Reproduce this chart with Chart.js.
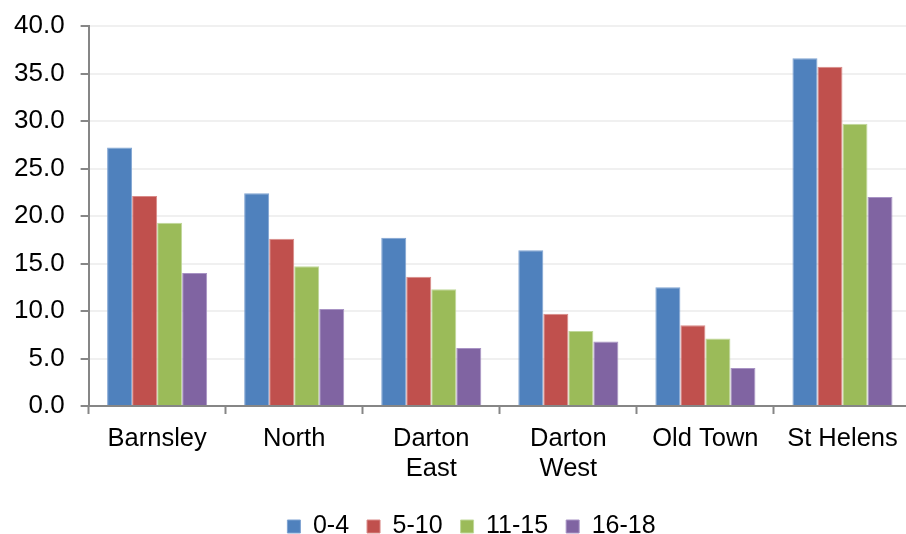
<!DOCTYPE html>
<html>
<head>
<meta charset="utf-8">
<script src="https://cdn.jsdelivr.net/npm/chart.js@4.4.1/dist/chart.umd.min.js"></script>
<style>
  html, body { margin: 0; padding: 0; background: #fff; overflow: hidden; }
  #wrap { position: relative; width: 911px; height: 534px; }
</style>
</head>
<body>
<div id="wrap"><canvas id="ageChart"></canvas></div>
<script>
// Areas along the x axis (two-line labels where the original wraps)
const areas = [['Barnsley'], ['North'], ['Darton', 'East'], ['Darton', 'West'], ['Old Town'], ['St Helens']];
const ageBands = ['0-4', '5-10', '11-15', '16-18'];

// Values per age band, one per area
const age0to4 = [27.2, 22.4, 17.7, 16.4, 12.5, 36.6];
const age5to10 = [22.1, 17.6, 13.6, 9.7, 8.5, 35.7];
const age11to15 = [19.3, 14.7, 12.3, 7.9, 7.1, 29.7];
const age16to18 = [14.0, 10.2, 6.1, 6.8, 4.0, 22.0];

const yTicks = [0, 5, 10, 15, 20, 25, 30, 35, 40];

const fills = ['#4F81BD', '#C0504D', '#9BBB59', '#8064A2'];
const edges = ['#7FA3D2', '#D98A88', '#C0D89A', '#A893C4'];
const axisGrey = '#868686';
const fontFamily = '"Liberation Sans", Arial, sans-serif';

const seriesValues = [age0to4, age5to10, age11to15, age16to18];

// legend sits a little right of the canvas centre in the original
const legendNudge = {
    id: 'legendNudge',
    afterLayout(chart) {
        const lg = chart.legend;
        lg.left += 17;
        lg.right += 17;
        lg.top += 2;
        lg.bottom += 2;
    }
};

new Chart(document.getElementById('ageChart'), {
    type: 'bar',
    data: {
        labels: areas,
        datasets: ageBands.map((band, i) => ({
            label: band,
            data: seriesValues[i],
            backgroundColor: fills[i],
            borderColor: edges[i],
            borderWidth: 1,
            categoryPercentage: 0.73,
            barPercentage: 1
        }))
    },
    plugins: [legendNudge],
    options: {
        responsive: true,
        maintainAspectRatio: false,
        animation: false,
        layout: {
            padding: { top: 26, left: -2, right: 0, bottom: -13 }
        },
        plugins: {
            legend: {
                position: 'bottom',
                labels: {
                    color: '#000',
                    boxWidth: 13,
                    boxHeight: 13,
                    padding: 18,
                    font: { family: fontFamily, size: 25 }
                }
            },
            tooltip: { enabled: false }
        },
        scales: {
            x: {
                grid: {
                    drawOnChartArea: false,
                    drawTicks: true,
                    tickLength: 8,
                    tickColor: axisGrey,
                    tickWidth: 2
                },
                border: { display: true, color: axisGrey, width: 2 },
                ticks: {
                    color: '#000',
                    padding: 10,
                    maxRotation: 0,
                    autoSkip: false,
                    font: { family: fontFamily, size: 25.5, lineHeight: '30px' }
                }
            },
            y: {
                min: 0,
                max: 40,
                afterBuildTicks(axis) {
                    axis.ticks = yTicks.map(v => ({ value: v }));
                },
                // let the top label overhang so the 40.0 line sits where the original has it
                afterFit(axis) {
                    axis.paddingTop = 10;
                },
                grid: {
                    color: '#F0F0F0',
                    lineWidth: 2,
                    tickLength: 8,
                    tickColor: axisGrey,
                    tickWidth: 2
                },
                border: { display: true, color: axisGrey, width: 2 },
                ticks: {
                    color: '#000',
                    padding: 16,
                    font: { family: fontFamily, size: 26 },
                    callback: v => Number(v).toFixed(1)
                }
            }
        }
    }
});
</script>
</body>
</html>
